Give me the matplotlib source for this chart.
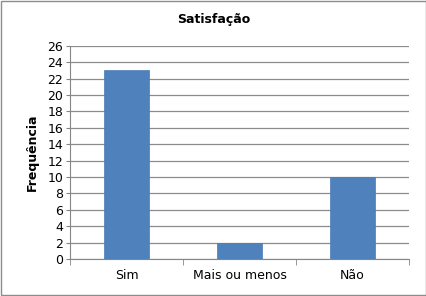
import matplotlib.pyplot as plt
from matplotlib.patches import Rectangle

categories = ["Sim", "Mais ou menos", "Não"]
values = [23, 2, 10]
yticks = list(range(0, 27, 2))

fig = plt.figure(figsize=(4.27, 2.96), dpi=100)
ax = fig.add_axes([0.164, 0.125, 0.794, 0.72])

x = range(len(categories))
ax.bar(x, values, width=0.4, color="#4F81BD", edgecolor="#4a7ab5", linewidth=0.5, zorder=3)

ax.set_xlim(-0.5, 2.5)
ax.set_ylim(0, 26)
ax.set_yticks(yticks)
ax.set_xticks(list(x))
ax.set_xticklabels(categories, fontsize=9)
ax.tick_params(axis="y", labelsize=9, length=3, color="#868686", pad=2)
ax.tick_params(axis="x", length=0, pad=7)
# category separators ticks
ax.set_xticks([-0.5, 0.5, 1.5, 2.5], minor=True)
ax.tick_params(axis="x", which="minor", length=4, color="#868686")
ax.grid(axis="y", color="#8c8c8c", linewidth=0.9, zorder=0)

for side in ["top", "right"]:
    ax.spines[side].set_visible(False)
for side in ["left", "bottom"]:
    ax.spines[side].set_color("#868686")
    ax.spines[side].set_linewidth(0.8)

ax.set_ylabel("Frequência", fontsize=9, fontweight="bold", labelpad=6)
fig.text(0.5, 0.935, "Satisfação", ha="center", va="center", fontsize=9, fontweight="bold")

fig.patches.append(Rectangle((0.002, 0.003), 0.996, 0.994, transform=fig.transFigure,
                             fill=False, edgecolor="#8c8c8c", linewidth=1))

fig.savefig("out.png", dpi=100)
